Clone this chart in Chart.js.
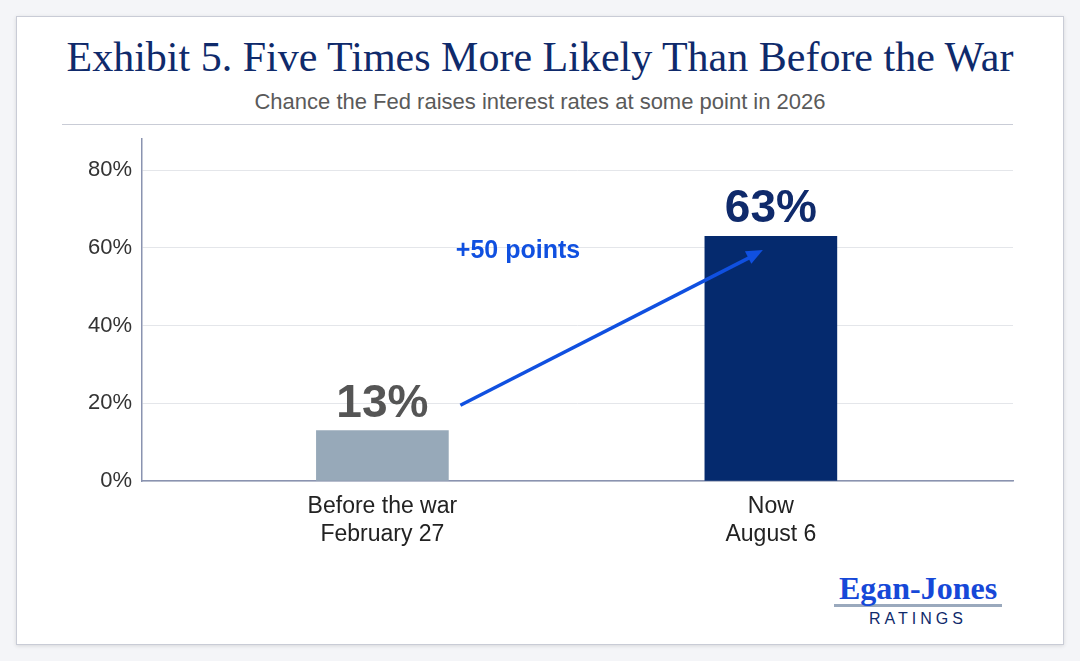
<!DOCTYPE html>
<html lang="en">
<head>
  <meta charset="UTF-8" />
  <title>Exhibit 5</title>
  <script src="https://cdn.jsdelivr.net/npm/chart.js"></script>
  <style>
    body { margin: 0; width: 1080px; height: 661px; background: #f4f5f8; position: relative; overflow: hidden; font-family: "Liberation Sans", Arial, sans-serif; }
    .card { position: absolute; left: 16px; top: 16px; width: 1046px; height: 627px; background: #fff; border: 1px solid #c9ccd6; box-shadow: 0 1px 4px rgba(0,0,0,0.12); }
    h1 { position: absolute; left: 0; top: 33px; width: 1080px; margin: 0; text-align: center; font-family: "Liberation Serif", "DejaVu Serif", serif; font-weight: normal; font-size: 42px; color: #0f2a6b; }
    .sub { position: absolute; left: 0; top: 89px; width: 1080px; text-align: center; font-size: 22px; color: #5a5a5a; }
    .rule { position: absolute; left: 62px; top: 124px; width: 951px; height: 1px; background: #c9ccd6; }
    .chart { position: absolute; left: 0; top: 116px; width: 1080px; height: 444px; }
    .logo { position: absolute; left: 834px; top: 572px; width: 168px; text-align: center; }
    .logo .n { font-family: "Liberation Serif", serif; font-weight: bold; font-size: 32px; color: #1648d8; line-height: 32px; border-bottom: 3px solid #9aa9bd; }
    .logo .r { font-size: 16px; letter-spacing: 4px; color: #0f2a6b; margin-top: 3px; }
  </style>
</head>
<body>
  <div class="card"></div>
  <h1>Exhibit 5. Five Times More Likely Than Before the War</h1>
  <div class="sub">Chance the Fed raises interest rates at some point in 2026</div>
  <div class="rule"></div>
  <div class="chart"><canvas id="c"></canvas></div>
  <div class="logo"><div class="n">Egan-Jones</div><div class="r">RATINGS</div></div>

  <script>
    const categories = [['Before the war', 'February 27'], ['Now', 'August 6']];
    const positions = [0.276, 0.722];
    const values = [13, 63];
    const barColors = ['#97a9b9', '#052a6e'];
    const labelColors = ['#555555', '#0f2a6b'];
    const yTicks = [0, 20, 40, 60, 80];

    const labelsPlugin = {
      id: 'labels',
      afterDatasetsDraw(chart) {
        const ctx = chart.ctx, x = chart.scales.x, y = chart.scales.y;
        ctx.save();
        ctx.textAlign = 'center';
        ctx.textBaseline = 'alphabetic';
        ctx.font = 'bold 46px "Liberation Sans", Arial, sans-serif';
        values.forEach((v, i) => {
          ctx.fillStyle = labelColors[i];
          ctx.fillText(v + '%', x.getPixelForValue(positions[i]), y.getPixelForValue(v) - 14);
        });
        // arrow
        const x1 = x.getPixelForValue(positions[0]) + 78, y1 = y.getPixelForValue(19.5);
        const x2 = x.getPixelForValue(positions[1]) - 8, y2 = y.getPixelForValue(59.5);
        ctx.strokeStyle = '#1050e0'; ctx.fillStyle = '#1050e0'; ctx.lineWidth = 3.5;
        ctx.beginPath(); ctx.moveTo(x1, y1); ctx.lineTo(x2 - 8, y2 + 5); ctx.stroke();
        const a = Math.atan2(y2 - y1, x2 - x1);
        ctx.beginPath();
        ctx.moveTo(x2, y2);
        ctx.lineTo(x2 - 18 * Math.cos(a - 0.4), y2 - 18 * Math.sin(a - 0.4));
        ctx.lineTo(x2 - 18 * Math.cos(a + 0.4), y2 - 18 * Math.sin(a + 0.4));
        ctx.closePath(); ctx.fill();
        ctx.font = 'bold 25px "Liberation Sans", Arial, sans-serif';
        ctx.fillText('+50 points', 518, y.getPixelForValue(59.5) + 8);
        ctx.restore();
      }
    };

    new Chart(document.getElementById('c'), {
      type: 'bar',
      data: {
        datasets: [{
          data: values.map((v, i) => ({ x: positions[i], y: v })),
          backgroundColor: barColors,
          barThickness: 132
        }]
      },
      options: {
        responsive: true, maintainAspectRatio: false, animation: false,
        layout: { padding: { top: 8, right: 67 } },
        plugins: { legend: { display: false }, tooltip: { enabled: false } },
        scales: {
          x: {
            type: 'linear', min: 0, max: 1, offset: false,
            afterBuildTicks: s => { s.ticks = positions.map(p => ({ value: p })); },
            afterFit: s => { s.height = 79; },
            grid: { display: false },
            border: { color: '#8a93b0', width: 1.5 },
            ticks: {
              padding: 4, color: '#222', font: { size: 23, family: '"Liberation Sans", Arial' },
              callback: (v, i) => categories[i]
            }
          },
          y: {
            min: 0, max: 88,
            afterBuildTicks: s => { s.ticks = yTicks.map(v => ({ value: v })); },
            afterFit: s => { s.width = 142; },
            grid: { color: '#e4e6ea', drawTicks: false },
            border: { color: '#8a93b0', width: 1.5 },
            ticks: { padding: 10, color: '#333', font: { size: 22, family: '"Liberation Sans", Arial' }, callback: v => v + '%' }
          }
        }
      },
      plugins: [labelsPlugin]
    });
  </script>
</body>
</html>
